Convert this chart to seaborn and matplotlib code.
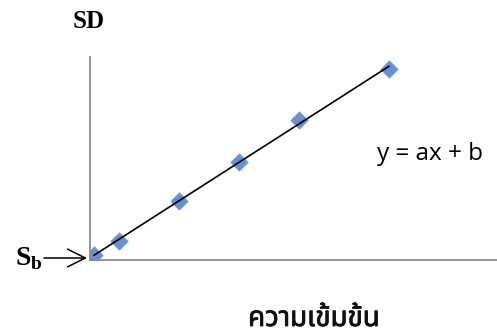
import matplotlib
matplotlib.use("Agg")
import matplotlib.pyplot as plt
import matplotlib.patheffects as pe
import seaborn as sns
import pandas as pd

# Calibration data: concentration vs standard deviation
concentration = [0.0, 0.5, 1.7, 2.9, 4.1, 5.9]
sd_values = [1.0, 1.7, 3.7, 5.65, 7.75, 10.3]

x_label = "ความเข้มข้น"
y_label = "SD"
equation = "y = ax + b"

sns.set_theme(style="white")
plt.rcParams["mathtext.fontset"] = "custom"
plt.rcParams["mathtext.bf"] = "Liberation Serif:bold"
plt.rcParams["mathtext.rm"] = "Liberation Serif:bold"

df = pd.DataFrame({"conc": concentration, "sd": sd_values})

W, H = 497, 336
fig = plt.figure(figsize=(W / 100, H / 100), dpi=100)
ax = fig.add_axes([90 / W, (H - 260) / H, (W - 90) / W, (260 - 57) / H])

sns.regplot(
    data=df, x="conc", y="sd", ax=ax, ci=None, truncate=True,
    marker="D",
    scatter_kws=dict(s=75, color="#4f7cc6", alpha=0.85, edgecolor="#7098d8", linewidths=0.9, zorder=2),
    line_kws=dict(color="black", lw=1.2, zorder=3),
)

ax.set_xlim(-0.08, 8.06)
ax.set_ylim(0.75, 10.9)
ax.set_xticks([])
ax.set_yticks([])
ax.set_xlabel("")
ax.set_ylabel("")
for side in ("top", "right"):
    ax.spines[side].set_visible(False)
for side in ("left", "bottom"):
    ax.spines[side].set_color("#8c8c8c")
    ax.spines[side].set_linewidth(1.3)


def fx(px):
    return px / W


def fy(py):
    return 1 - py / H


fig.text(fx(89), fy(21), y_label, ha="center", va="center",
         family="Liberation Serif", fontweight="bold", fontsize=18, color="black")

fig.text(fx(430), fy(154), equation, ha="center", va="center",
         family="Open Sans", fontsize=17.5, color="black")

fig.text(fx(314), fy(319), x_label, ha="center", va="center",
         family=["Noto Sans Thai", "Noto Serif Thai", "Loma", "Garuda", "DejaVu Sans"],
         fontweight="bold", fontsize=20, color="#111111",
         path_effects=[pe.withStroke(linewidth=0.6, foreground="#111111")])

ax.annotate(
    "",
    xy=(fx(87), fy(258)), xycoords="figure fraction",
    xytext=(fx(44), fy(258)), textcoords="figure fraction",
    arrowprops=dict(arrowstyle="->", color="black", lw=1.1, shrinkA=0, shrinkB=0,
                    mutation_scale=32),
    annotation_clip=False,
)
fig.text(fx(29), fy(258), r"$\mathbf{S}_\mathbf{b}$", ha="center", va="center",
         fontsize=20, color="black")

fig.savefig("out.png", dpi=100)
